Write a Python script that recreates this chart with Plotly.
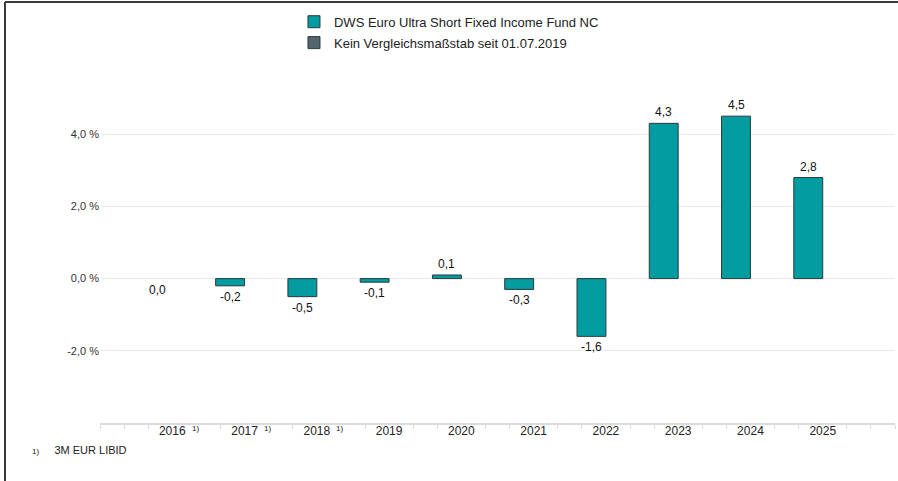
import plotly.graph_objects as go

years = ["2016", "2017", "2018", "2019", "2020", "2021", "2022", "2023", "2024", "2025"]
fund_values = [0.0, -0.2, -0.5, -0.1, 0.1, -0.3, -1.6, 4.3, 4.5, 2.8]
benchmark_values = [None] * len(years)
footnote_years = ["2016", "2017", "2018"]
y_tick_values = [-4, -2, 0, 2, 4, 6]
y_tick_text = ["", "-2,0 %", "0,0 %", "2,0 %", "4,0 %", ""]

fund_name = "DWS Euro Ultra Short Fixed Income Fund NC"
bench_name = "Kein Vergleichsmaßstab seit 01.07.2019"
footnote_text = "3M EUR LIBID"

TEAL = "#009ca0"
BENCH = "#55656d"
OUTLINE = "#2b3a3d"
FONT = "Liberation Sans, Arial, sans-serif"

idx = list(range(len(years)))

fig = go.Figure()
fig.add_trace(go.Bar(
    x=idx, y=[v if v != 0 else None for v in fund_values], name=fund_name,
    marker=dict(color=TEAL, line=dict(color=OUTLINE, width=1)),
    offset=-0.4, width=0.4, legendgroup="a", hoverinfo="skip",
))
fig.add_trace(go.Bar(
    x=idx, y=benchmark_values, name=bench_name,
    marker=dict(color=BENCH, line=dict(color=OUTLINE, width=1)),
    offset=0.0, width=0.4, legendgroup="b", hoverinfo="skip",
))

# value labels
for i, v in zip(idx, fund_values):
    lbl = f"{v:.1f}".replace(".", ",")
    fig.add_annotation(
        x=i - 0.2, y=v, xref="x", yref="y", text=lbl, showarrow=False,
        yanchor="bottom" if v > 0 else "top", yshift=2 if v > 0 else -2,
        font=dict(family=FONT, size=12, color="#111"),
    )

# footnote markers on tick labels
for i, yr in enumerate(years):
    if yr in footnote_years:
        fig.add_annotation(
            x=i, y=0, xref="x", yref="paper", text="1)", showarrow=False,
            xshift=23, yshift=1, yanchor="top",
            font=dict(family=FONT, size=8, color="#222"),
        )

# minor tick positions every third of a category, skipping those under labels
minor_ticks = []
for k in range(-3, 31):
    t = k / 3
    near = round(t)
    d = t - near
    if 0 <= near < len(years) and abs(d) < 0.1:
        continue
    if 0 <= near < len(years) and years[near] in footnote_years and 0.2 < d < 0.5:
        continue
    minor_ticks.append(t)

fig.add_annotation(
    x=-0.088, y=-0.075, xref="paper", yref="paper", xanchor="left", yanchor="middle",
    text="<span style='font-size:8px'>1)</span>     " + footnote_text, showarrow=False,
    font=dict(family=FONT, size=11, color="#222"),
)

# frame lines (screenshot border)
fig.add_shape(type="line", xref="paper", yref="paper", x0=-0.1195, x1=-0.1195, y0=-0.2, y1=1.166,
              line=dict(color="#3a3a3a", width=2))
fig.add_shape(type="line", xref="paper", yref="paper", x0=-0.1195, x1=1.01, y0=1.166, y1=1.166,
              line=dict(color="#3a3a3a", width=2))

fig.update_layout(
    width=898, height=481,
    margin=dict(l=100, r=3, t=62, b=58),
    paper_bgcolor="white", plot_bgcolor="white",
    font=dict(family=FONT, size=12, color="#333"),
    showlegend=True,
    legend=dict(x=0.244, y=1.153, xanchor="left", yanchor="top", orientation="v",
                font=dict(family=FONT, size=13, color="#222"),
                traceorder="grouped", tracegroupgap=1, bgcolor="rgba(0,0,0,0)"),
    xaxis=dict(
        range=[-1, 10], tickvals=idx, ticktext=years, ticks="", showgrid=False,
        zeroline=False, showline=True, linecolor="#dcdcdc", linewidth=2,
        tickfont=dict(family=FONT, size=12, color="#222"), ticklabelstandoff=-4,
        minor=dict(tickvals=minor_ticks, ticks="outside", ticklen=4, tickcolor="#dcdcdc", showgrid=False),
        fixedrange=True,
    ),
    yaxis=dict(
        range=[-4, 6], tickvals=y_tick_values, ticktext=y_tick_text, showgrid=True,
        gridcolor="#e8e8e8", gridwidth=1, zeroline=False, showline=False, ticks="",
        tickfont=dict(family=FONT, size=11, color="#333"), fixedrange=True,
    ),
)

fig.write_html("out.html", post_script="document.body.style.margin='0';",
               config={"displayModeBar": False})
